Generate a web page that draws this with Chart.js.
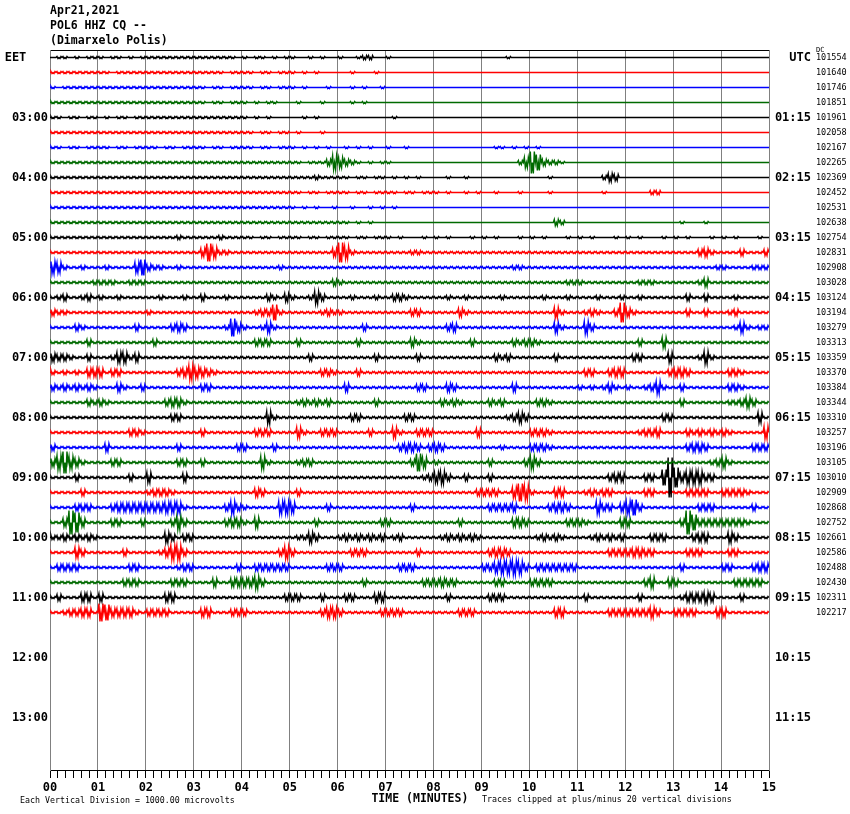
<!DOCTYPE html>
<html>
<head>
<meta charset="utf-8">
<script src="https://cdn.jsdelivr.net/npm/chart.js@4.4.0/dist/chart.umd.min.js"></script>
<style>
  body { margin: 0; background: #fff; }
  #wrap { width: 850px; height: 814px; position: relative; }
</style>
</head>
<body>
<div id="wrap"><canvas id="heli"></canvas></div>
<script>
var headerLines = ['Apr21,2021', 'POL6 HHZ CQ --', '(Dimarxelo Polis)'];
var minuteLabels = ['00','01','02','03','04','05','06','07','08','09','10','11','12','13','14','15'];
// one label per hour = every 4th trace row
var eetLabels = ['EET   ','03:00','04:00','05:00','06:00','07:00','08:00','09:00','10:00','11:00','12:00','13:00'];
var utcLabels = ['UTC','01:15','02:15','03:15','04:15','05:15','06:15','07:15','08:15','09:15','10:15','11:15'];
var dcCounts = [101554,101640,101746,101851,101961,102058,102167,102265,102369,102452,102531,102638,102754,
  102831,102908,103028,103124,103194,103279,103313,103359,103370,103384,103344,103310,103257,103196,103105,
  103010,102909,102868,102752,102661,102586,102488,102430,102311,102217];
var traceColors = ['#000000', '#ff0000', '#0000ff', '#006a00'];
var scaleNote = 'Each Vertical Division = 1000.00 microvolts';
var clipNote = 'Traces clipped at plus/minus 20 vertical divisions';

// half peak-to-peak in pixels (base 36 digit), one per 7.5 s, 8 per minute
var traceAmps = [
  '01101011 10110101 11111111 11111110 10110101 10010100 10012200 10000000 00000000 00001000 00000000 00000000 00000000 00000000 00000000',
  '11111111 11011111 11111111 11111011 11011011 10101000 00100010 00000000 00000000 00000000 00000000 00000000 00000000 00000000 00000000',
  '10111111 11111111 11111111 11011011 11011011 10100010 00101001 00000000 00000000 00000000 00000000 00000000 00000000 00000000 00000000',
  '11111111 11111111 11111111 11011011 10101100 01000100 00101000 00000000 00000000 00000000 00000000 00000000 00000000 00000000 00000000',
  '11011011 01011011 11111111 11111111 10101000 00101000 00000000 01000000 00000000 00000000 00000000 00000000 00000000 00000000 00000000',
  '11111111 11111111 11111111 11111111 11011011 01000100 00000000 00000000 00000000 00000000 00000000 00000000 00000000 00000000 00000000',
  '11011011 11011011 11011011 11011011 11011011 10101010 01010100 10010000 00000000 00110101 01000000 00000000 00000000 00000000 00000000',
  '11111111 11111111 11111111 11111111 11111111 11011137 53210101 10000000 00000000 00000025 b8322100 00000000 00000000 00000000 00000000',
  '11111111 11111111 11111111 11111111 11111111 11112111 11011011 01010100 00100100 00000000 00010000 00002430 00000000 00000000 00000000',
  '11111111 11111111 11111111 11111111 11111111 11011011 11011011 11011011 10100101 00100010 00010000 00001000 00002200 00000000 00000000',
  '11111111 11111111 11111111 11111111 11111111 10101001 00100101 01000000 00000000 00000000 00000000 00000000 00000000 00000000 00000000',
  '11111111 11111111 11111111 11111111 11111111 11111111 11010100 00000000 00000000 00000000 00003200 00000000 00000000 01000100 00000000',
  '11111111 11111111 11111211 11112111 11011011 11011011 11011011 10100010 10100010 10100010 10100010 10100010 10100010 10100010 10100010',
  '11111111 11111111 11111111 14952211 11111111 11111114 a6211111 11112211 11111111 11111111 11111111 11111111 11111111 11113421 11131113',
  '65211211 12111158 32211211 11111111 11111121 11111111 11111111 11111111 11111111 11111221 11111111 11111111 11111111 11111112 21111222',
  '11111112 22211222 11111111 11111111 11111111 11111113 21111111 11111111 11111111 11111111 11111122 21111111 11222111 11112411 11111111',
  '12311231 21121111 11211121 13111211 11113214 21126311 11211121 13321111 11211211 11121111 11211121 11121112 11211111 11311311 11211111',
  '32211111 11111111 21111111 11111111 11233821 11111232 21111111 11113311 11114211 11111111 11115211 1232113a 42111111 11311311 12311111',
  '11113211 11111131 11113431 11111294 21125211 11111111 11113111 11111111 11341111 11111111 11115211 16311111 11111111 11111111 11252122',
  '11111131 11111111 13111111 11111111 11333111 13111111 11131111 11114211 11111131 11111323 32111111 11111111 11311151 11111111 11111111',
  '43321131 11255241 11111111 11111111 11111111 11131111 11111131 11111311 11111111 11323111 11113111 11111111 13311115 11112621 11111111',
  '21212144 41331111 11111347 54321111 11111111 11111332 11131111 11111111 11111111 11111111 11111111 13311344 11111113 44311111 13321111',
  '32323232 11142113 11111111 13311111 11111111 11111111 14111111 11111331 11431111 11111411 11111111 21212421 21123621 13111111 13321111',
  '11111132 32111111 11134421 11111111 11111111 12323231 11111131 11111111 13232111 13231111 13321111 11111111 11111111 13111111 12235311',
  '11111111 11111111 11113311 11111111 11116211 11111111 11331111 11133111 11111111 11112353 11111111 11111111 11111133 11111111 11111151',
  '11111111 11111332 11111111 13111111 11333111 15211333 11111311 15211333 11111114 11111111 33321111 11111111 11233411 11323232 32111116',
  '31111111 14111111 11111311 11111113 31111311 11111111 11111111 11344313 43111111 11121111 33321111 11111111 11111111 11344311 11111333',
  '47b64211 11331111 11111331 13111111 11162111 12331111 11111111 11113951 21111111 13111113 63111111 11111111 11111111 11111123 52111111',
  '11113111 11111311 51111141 11111111 11111111 11111111 11111111 11111123 56311311 13111111 11111111 11111344 1113318k a4666331 11111111',
  '11111311 11111111 23332111 11111111 11431111 13111111 11111111 11111111 11111113 33311597 21114411 12323311 11133111 11333311 33332111',
  '11113331 11344444 44455521 11111363 21111166 51111131 11111111 11113111 11111111 13333411 11134431 11163314 68311111 11113331 11111311',
  '114ca411 11331113 11113731 11111344 21511111 11113111 11111113 31111111 11113111 11111443 11111133 32111114 41111111 13c83333 33332111',
  '22323232 11111111 11153133 11111111 11111111 12253111 23232323 12311111 12323232 11111111 12323211 11232323 11113331 11134411 15311111',
  '11115311 11113111 11247731 11111111 11111136 31111111 11333111 11111311 11111111 13443111 11111111 11111333 34433111 11333111 13311111',
  '13333111 11111331 11111233 11111113 11333333 11111133 31111111 11333111 11111111 33566763 13333333 11111111 11111111 13111111 33111344',
  '11111111 11113331 11113331 11141144 44631111 11111111 11113111 11111133 34331111 11331111 33331111 11111111 11135114 31111111 11333331',
  '13111441 41111111 11144111 11111111 11111113 33111311 13311144 11111111 11311111 13331111 11111111 13111111 11311111 12444541 11131111',
  '11233441 98444421 33331111 14411133 31111111 11111355 31111113 33311111 11113331 11111111 11114411 11111333 33335311 33331114 41111111'
];

var FONT = "'DejaVu Sans Mono', monospace";
var ROWS = 48;
var PX_PER_ROW = 15;
var STEP = 1 / 8;      // minutes per amplitude value
var PX_MIN = 1 / 48;   // one pixel in minutes
var rows = [];
for (var r = 0; r < ROWS; r++) rows.push(r);

function isMinute(v) { return Math.abs(v - Math.round(v)) < 1e-6; }

// each value is drawn as two quick up/down strokes about the trace baseline
var datasets = traceAmps.map(function (str, i) {
  var amps = str.replace(/ /g, '').split('').map(function (c) { return parseInt(c, 36); });
  var pts = [];
  amps.forEach(function (a, k) {
    var x0 = k * STEP, d = a / PX_PER_ROW;
    pts.push({ x: x0, y: i });
    pts.push({ x: x0 + PX_MIN, y: i - d });
    pts.push({ x: x0 + 2 * PX_MIN, y: i + d });
    pts.push({ x: x0 + 3 * PX_MIN, y: i });
    pts.push({ x: x0 + 4 * PX_MIN, y: i + d });
    pts.push({ x: x0 + 5 * PX_MIN, y: i - d });
  });
  pts.push({ x: 15, y: i });
  return {
    data: pts,
    borderColor: traceColors[i % 4],
    borderWidth: 1.4,
    pointRadius: 0,
    fill: false
  };
});

var footnotes = {
  id: 'footnotes',
  afterDraw: function (chart) {
    var ctx = chart.ctx;
    ctx.save();
    ctx.fillStyle = '#000';
    ctx.font = '8.3px ' + FONT;
    ctx.textBaseline = 'middle';
    ctx.textAlign = 'left';
    ctx.fillText(scaleNote, 20, chart.height - 13);
    ctx.fillText(clipNote, 482, chart.height - 14);
    ctx.restore();
  }
};

new Chart(document.getElementById('heli'), {
  type: 'line',
  data: { datasets: datasets },
  options: {
    responsive: true,
    maintainAspectRatio: false,
    animation: false,
    devicePixelRatio: 1,
    parsing: false,
    normalized: true,
    events: [],
    layout: { padding: 0 },
    elements: { line: { tension: 0 } },
    plugins: {
      legend: { display: false },
      tooltip: { enabled: false },
      title: {
        display: true,
        text: headerLines,
        align: 'start',
        fullSize: false,
        color: '#000',
        font: { family: FONT, size: 11.5, weight: 'bold', lineHeight: '15px' },
        padding: { top: 4, bottom: 1 }
      }
    },
    scales: {
      x: {
        type: 'linear', position: 'bottom', min: 0, max: 15,
        afterFit: function (s) { s.height = 44; },
        ticks: {
          stepSize: 1 / 6, autoSkip: false, maxRotation: 0, padding: 3, color: '#000',
          font: { family: FONT, size: 12, weight: 'bold' },
          callback: function (v) { return isMinute(v) ? minuteLabels[Math.round(v)] : ''; }
        },
        grid: {
          color: function (c) { return c.tick && isMinute(c.tick.value) ? '#808080' : 'rgba(0,0,0,0)'; },
          tickColor: '#000', tickLength: 8, lineWidth: 1
        },
        border: { color: '#000' },
        title: {
          display: true, text: '   TIME (MINUTES)', color: '#000',
          font: { family: FONT, size: 11.5, weight: 'bold' },
          padding: { top: 0, bottom: 8 }
        }
      },
      xTop: {
        type: 'linear', position: 'top', min: 0, max: 15,
        ticks: { display: false }, grid: { display: false, drawTicks: false },
        border: { color: '#000' }
      },
      y: {
        type: 'linear', position: 'left', reverse: true, min: -0.5, max: ROWS - 0.5,
        afterBuildTicks: function (s) { s.ticks = rows.map(function (v) { return { value: v }; }); },
        afterFit: function (s) { s.width = 50; },
        ticks: {
          autoSkip: false, padding: 2, color: '#000',
          font: { family: FONT, size: 12, weight: 'bold' },
          callback: function (v) { return v % 4 === 0 ? eetLabels[v / 4] : ''; }
        },
        grid: { display: false, drawTicks: false },
        border: { color: '#808080' }
      },
      yUtc: {
        type: 'linear', position: 'right', weight: 0, reverse: true, min: -0.5, max: ROWS - 0.5,
        afterBuildTicks: function (s) { s.ticks = rows.map(function (v) { return { value: v }; }); },
        afterFit: function (s) { s.width = 42; },
        ticks: {
          autoSkip: false, padding: 3, crossAlign: 'far', color: '#000',
          font: { family: FONT, size: 12, weight: 'bold' },
          callback: function (v) { return v % 4 === 0 ? utcLabels[v / 4] : ''; }
        },
        grid: { display: false, drawTicks: false },
        border: { color: '#808080' }
      },
      yNum: {
        type: 'linear', position: 'right', weight: 1, reverse: true, min: -0.5, max: ROWS - 0.5,
        afterBuildTicks: function (s) {
          s.ticks = [{ value: -0.5 }].concat(rows.map(function (v) { return { value: v }; }));
        },
        afterFit: function (s) { s.width = 39; },
        ticks: {
          autoSkip: false, padding: 5, color: '#000',
          font: function (c) {
            return { family: FONT, size: c.tick && c.tick.value < 0 ? 7 : 8.5 };
          },
          callback: function (v) {
            if (v < 0) return 'DC';
            return v < dcCounts.length ? String(dcCounts[v]) : '';
          }
        },
        grid: { display: false, drawTicks: false },
        border: { display: false }
      }
    }
  },
  plugins: [footnotes]
});
</script>
</body>
</html>
